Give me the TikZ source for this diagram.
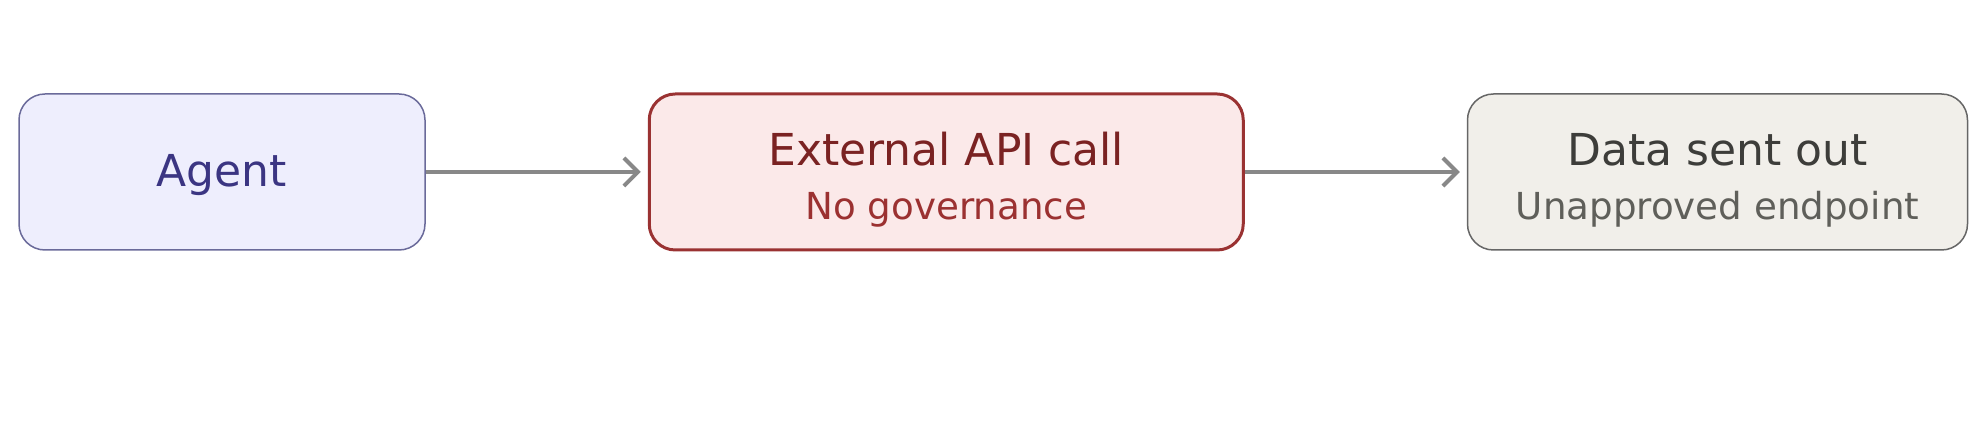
\documentclass[tikz,border=0pt]{standalone}
\usepackage{fontspec}
\setmainfont{DejaVu Sans}
\usepackage{tikz}
\usetikzlibrary{positioning,calc,arrows.meta}
\definecolor{agentfill}{HTML}{EEEEFD}
\definecolor{agentline}{HTML}{6A6A9A}
\definecolor{agenttext}{HTML}{3B3582}
\definecolor{apifill}{HTML}{FBE9E9}
\definecolor{apiline}{HTML}{9A3232}
\definecolor{apititle}{HTML}{7A2222}
\definecolor{apisub}{HTML}{9B3131}
\definecolor{outfill}{HTML}{F1EFEA}
\definecolor{outline}{HTML}{666666}
\definecolor{outtitle}{HTML}{3D3D3A}
\definecolor{outsub}{HTML}{5F5F5A}
\definecolor{flowgray}{HTML}{888888}
\newcommand{\boxheight}{78pt}
\newcommand{\boxgap}{111pt}

\tikzset{
  flowbox/.style={rectangle, rounded corners=13pt, minimum height=\boxheight, inner sep=0pt},
  titletext/.style={anchor=base, font=\fontsize{22}{26}\selectfont, inner sep=0pt},
  subtext/.style={anchor=base, font=\fontsize{18.6}{22}\selectfont, inner sep=0pt},
  flowarrow/.style={draw=flowgray, line width=2pt, -{Straight Barb[length=7pt,width=14pt,line width=2pt]}, shorten >=3.5pt}
}

\begin{document}
\begin{tikzpicture}[node distance=\boxgap]
  \useasboundingbox (0, 0) rectangle (994pt, 218.5pt);

  \node [flowbox, fill=agentfill, draw=agentline, line width=0.75pt, minimum width=203pt] (agent) at (111pt, 132.5pt) {};
  \node [flowbox, fill=apifill, draw=apiline, line width=1.5pt, minimum width=297pt, right=of agent] (api) {};
  \node [flowbox, fill=outfill, draw=outline, line width=0.75pt, minimum width=250pt, right=of api] (out) {};

  \node [titletext, text=agenttext] (agentname) at ($(agent.center) + (0, -7.5pt)$) {Agent};

  \node [titletext, text=apititle] (apiname) at ($(api.center) + (0, 3pt)$) {External API call};
  \node [subtext, text=apisub] (apinote) at ($(api.center) + (0, -24pt)$) {No governance};

  \node [titletext, text=outtitle] (outname) at ($(out.center) + (0, 3pt)$) {Data sent out};
  \node [subtext, text=outsub] (outnote) at ($(out.center) + (0, -24pt)$) {Unapproved endpoint};

  \draw [flowarrow] (agent) -- (api);
  \draw [flowarrow] (api) -- (out);
\end{tikzpicture}
\end{document}
